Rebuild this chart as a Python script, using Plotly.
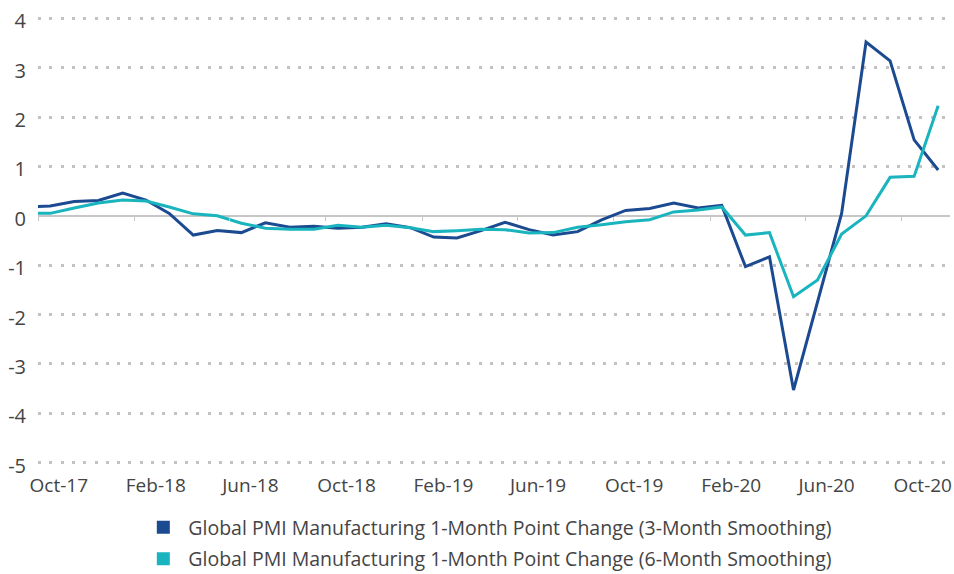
import plotly.graph_objects as go

# monthly readings, Sep-17 .. Nov-20 (first point sits just off the left edge)
months = [
    "2017-09-01", "2017-10-01", "2017-11-01", "2017-12-01",
    "2018-01-01", "2018-02-01", "2018-03-01", "2018-04-01", "2018-05-01", "2018-06-01",
    "2018-07-01", "2018-08-01", "2018-09-01", "2018-10-01", "2018-11-01", "2018-12-01",
    "2019-01-01", "2019-02-01", "2019-03-01", "2019-04-01", "2019-05-01", "2019-06-01",
    "2019-07-01", "2019-08-01", "2019-09-01", "2019-10-01", "2019-11-01", "2019-12-01",
    "2020-01-01", "2020-02-01", "2020-03-01", "2020-04-01", "2020-05-01", "2020-06-01",
    "2020-07-01", "2020-08-01", "2020-09-01", "2020-10-01", "2020-11-01",
]

pmi_3m = [
    0.18, 0.20, 0.29, 0.31,
    0.46, 0.32, 0.05, -0.39, -0.30, -0.34,
    -0.14, -0.23, -0.21, -0.25, -0.23, -0.16,
    -0.24, -0.43, -0.45, -0.30, -0.13, -0.28,
    -0.39, -0.32, -0.08, 0.11, 0.15, 0.26,
    0.16, 0.21, -1.03, -0.83, -3.53, -1.75,
    0.05, 3.52, 3.14, 1.54, 0.93,
]

pmi_6m = [
    0.05, 0.05, 0.16, 0.26,
    0.32, 0.30, 0.18, 0.04, 0.00, -0.15,
    -0.25, -0.27, -0.27, -0.19, -0.23, -0.19,
    -0.24, -0.32, -0.30, -0.27, -0.28, -0.35,
    -0.34, -0.23, -0.18, -0.12, -0.08, 0.08,
    0.12, 0.18, -0.39, -0.34, -1.64, -1.30,
    -0.37, 0.00, 0.78, 0.80, 2.23,
]

y_ticks = [-5, -4, -3, -2, -1, 0, 1, 2, 3, 4]
y_labels = ["-5", "-4", "-3", "-2", "-1", "0", "1", "2", "3", "4"]

name_3m = "Global PMI Manufacturing 1-Month Point Change (3-Month Smoothing)"
name_6m = "Global PMI Manufacturing 1-Month Point Change (6-Month Smoothing)"

BLUE = "#1b4a91"
TEAL = "#1ab4bf"
GRID = "#c2c2c2"
AXIS = "#c6c6c6"
TEXT = "#444444"

Y_MIN, Y_MAX = -5.05, 4.05

fig = go.Figure()

fig.add_trace(go.Scatter(
    x=months, y=pmi_3m, mode="lines",
    xperiod="M1", xperiodalignment="middle",
    line=dict(color=BLUE, width=3),
    showlegend=False, name=name_3m,
))
# second series sits on the overlaying axis that carries the tick marks on the zero line
fig.add_trace(go.Scatter(
    x=months, y=pmi_6m, mode="lines",
    xperiod="M1", xperiodalignment="middle",
    line=dict(color=TEAL, width=3),
    xaxis="x2", showlegend=False, name=name_6m,
))

# square legend keys
fig.add_trace(go.Scatter(
    x=[None], y=[None], mode="markers", name=name_3m, legendgroup="a",
    marker=dict(symbol="square", size=13, color=BLUE),
))
fig.add_trace(go.Scatter(
    x=[None], y=[None], mode="markers", name=name_6m, legendgroup="b",
    marker=dict(symbol="square", size=13, color=TEAL),
))

fig.update_layout(
    width=954, height=574,
    margin=dict(l=38, r=4, t=16, b=109, autoexpand=False),
    paper_bgcolor="white", plot_bgcolor="white",
    font=dict(family="Open Sans", size=19, color=TEXT),
    xaxis=dict(
        type="date", range=["2017-10-01", "2020-12-01"],
        tick0="2017-10-16", dtick="M4", tickformat="%b-%y",
        ticks="", showgrid=False, showline=False, zeroline=False,
        ticklabelshift=9, ticklabelstandoff=7, ticklabeloverflow="allow",
    ),
    xaxis2=dict(
        type="date", overlaying="x", matches="x",
        anchor="free", position=-Y_MIN / (Y_MAX - Y_MIN), side="bottom",
        tick0="2017-10-01", dtick="M4",
        ticks="outside", ticklen=4, tickwidth=1, tickcolor=AXIS,
        showticklabels=False, showgrid=False, showline=False, zeroline=False,
    ),
    yaxis=dict(
        range=[Y_MIN, Y_MAX], tickvals=y_ticks, ticktext=y_labels,
        tickfont=dict(size=20),
        showgrid=True, gridcolor=GRID, gridwidth=3, griddash="3px,8.3px",
        zeroline=True, zerolinecolor=AXIS, zerolinewidth=2,
        showline=False, ticks="", ticklabelstandoff=11, ticklabelshift=3,
        ticklabeloverflow="allow",
    ),
    legend=dict(
        orientation="v", x=0.110, xanchor="left", y=-0.096, yanchor="top",
        traceorder="grouped", tracegroupgap=3, itemwidth=40,
        font=dict(size=19.5, color=TEXT), bgcolor="rgba(0,0,0,0)",
    ),
    showlegend=True,
)

# drop the default 8px page margin so the figure fills the window exactly
fig.write_html(
    "out.html",
    config={"displayModeBar": False},
    post_script="document.body.style.margin='0';document.body.style.overflow='hidden';",
)
